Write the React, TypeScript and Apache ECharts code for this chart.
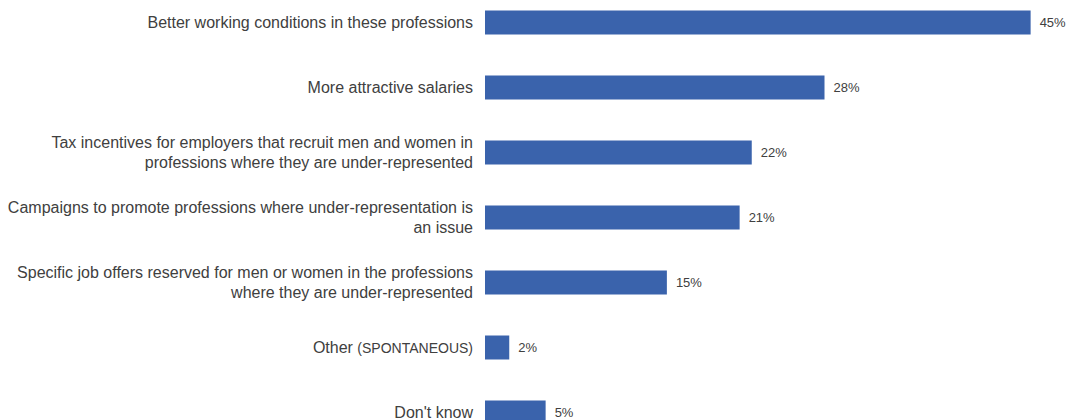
import React, { useEffect, useRef } from "react";
import * as echarts from "echarts";

const categories: string[] = [
  "Better working conditions in these professions",
  "More attractive salaries",
  "Tax incentives for employers that recruit men and women in\nprofessions where they are under-represented",
  "Campaigns to promote professions where under-representation is\nan issue",
  "Specific job offers reserved for men or women in the professions\nwhere they are under-represented",
  "Other {s|(SPONTANEOUS)}",
  "Don't know",
];
const values: number[] = [45, 28, 22, 21, 15, 2, 5];

export default function App() {
  const ref = useRef<HTMLDivElement>(null);
  useEffect(() => {
    if (!ref.current) return;
    const chart = echarts.init(ref.current, undefined, { renderer: "svg" });
    chart.setOption({
      animation: false,
      grid: { left: 485, right: 1, top: 0, bottom: 0, containLabel: false },
      xAxis: {
        type: "value",
        min: 0,
        max: 48,
        show: false,
      },
      yAxis: {
        type: "category",
        data: categories,
        inverse: true,
        axisLine: { show: false },
        axisTick: { show: false },
        axisLabel: {
          margin: 12,
          color: "#404040",
          fontFamily: "Liberation Sans, Arial, sans-serif",
          fontSize: 16,
          lineHeight: 20,
          align: "right",
          rich: {
            s: {
              fontSize: 14,
              color: "#404040",
              fontFamily: "Liberation Sans, Arial, sans-serif",
            },
          },
        },
      },
      series: [
        {
          type: "bar",
          data: values,
          barWidth: 24,
          itemStyle: { color: "#3A63AC" },
          label: {
            show: true,
            position: "right",
            distance: 9,
            formatter: "{c}%",
            color: "#404040",
            fontFamily: "Liberation Sans, Arial, sans-serif",
            fontSize: 13,
          },
        },
      ],
    });
    return () => chart.dispose();
  }, []);
  return (
    <div
      ref={ref}
      style={{ position: "fixed", left: 0, top: -10, width: 1068, height: 455, background: "#fff" }}
    />
  );
}
